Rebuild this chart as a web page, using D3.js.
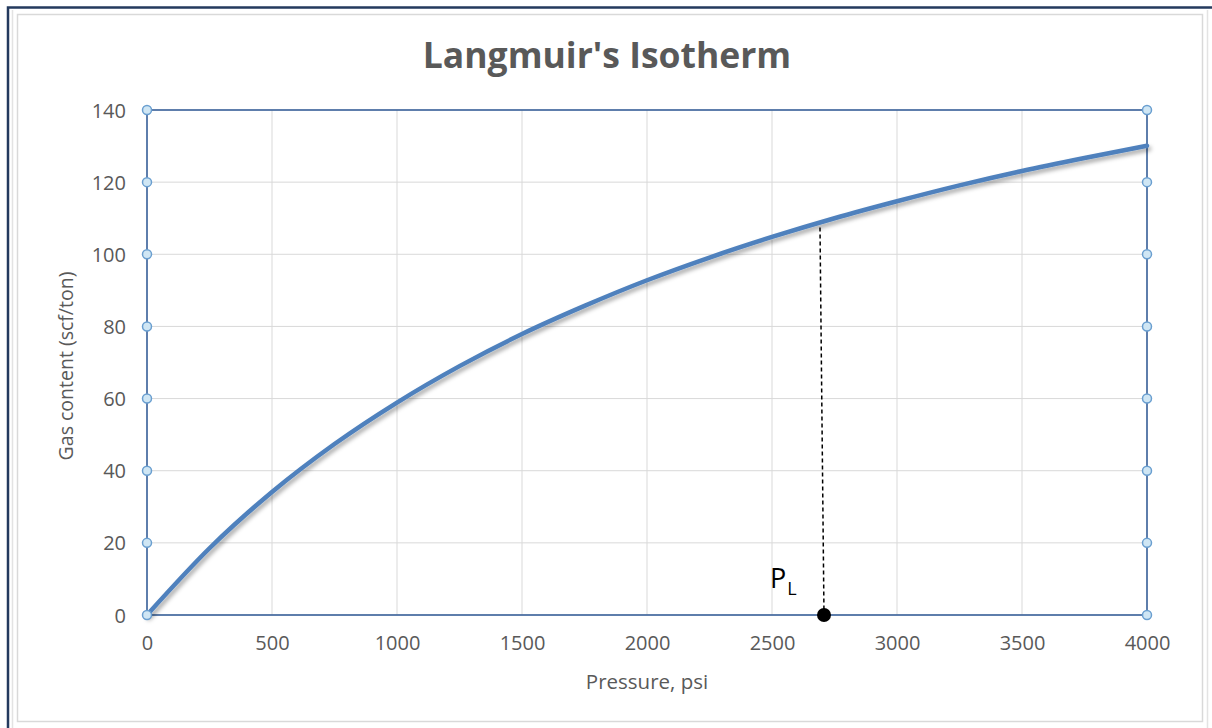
<!DOCTYPE html>
<html>
<head>
<meta charset="utf-8">
<script src="https://cdn.jsdelivr.net/npm/d3@7"></script>
<style>
  html, body { margin: 0; padding: 0; background: #fff; }
  svg { display: block; }
</style>
</head>
<body>
<svg id="chart" width="1212" height="728"></svg>
<script>
// ---- Data ----
const pressure = [0, 250, 500, 750, 1000, 1250, 1500, 1750, 2000, 2250, 2500, 2750, 3000, 3250, 3500, 3750, 4000];
const gasContent = [0, 18.5, 34.1, 47.4, 58.9, 69.0, 77.9, 85.7, 92.8, 99.1, 104.8, 110.0, 114.7, 119.1, 123.1, 126.7, 130.1];
const xTicks = [0, 500, 1000, 1500, 2000, 2500, 3000, 3500, 4000];
const yTicks = [0, 20, 40, 60, 80, 100, 120, 140];
const langmuirPressure = [2708];
const langmuirCurveValue = [108.8];
const titleText = "Langmuir's Isotherm";
const xTitle = "Pressure, psi";
const yTitle = "Gas content (scf/ton)";

const svg = d3.select("#chart");
const font = "Open Sans, Calibri, Carlito, sans-serif";

// frames
svg.append("rect").attr("x", 17.5).attr("y", 14.5).attr("width", 1185).attr("height", 707)
  .attr("fill", "#fff").attr("stroke", "#d9d9d9").attr("stroke-width", 1.5);
svg.append("line").attr("x1", 12.5).attr("x2", 12.5).attr("y1", 10).attr("y2", 728)
  .attr("stroke", "#e3e3e3").attr("stroke-width", 1.5);
svg.append("line").attr("x1", 1207.5).attr("x2", 1207.5).attr("y1", 10).attr("y2", 728)
  .attr("stroke", "#e3e3e3").attr("stroke-width", 1.5);
svg.append("path").attr("d", "M8,728 V7.5 H1212").attr("fill", "none")
  .attr("stroke", "#243a5e").attr("stroke-width", 2.5);

const x = d3.scaleLinear().domain([0, 4000]).range([147, 1147]);
const y = d3.scaleLinear().domain([0, 140]).range([615, 110]);

// shadow filter
const defs = svg.append("defs");
const f = defs.append("filter").attr("id", "shadow").attr("x", "-5%").attr("y", "-5%").attr("width", "110%").attr("height", "120%");
f.append("feDropShadow").attr("dx", 2).attr("dy", 3).attr("stdDeviation", 2)
  .attr("flood-color", "#000").attr("flood-opacity", 0.35);

// gridlines
const grid = svg.append("g");
grid.selectAll(".vg").data(xTicks).join("line")
  .attr("x1", d => x(d)).attr("x2", d => x(d)).attr("y1", y(140)).attr("y2", y(0))
  .attr("stroke", "#d9d9d9").attr("stroke-width", 1);
grid.selectAll(".hg").data(yTicks).join("line")
  .attr("x1", x(0)).attr("x2", x(4000)).attr("y1", d => y(d)).attr("y2", d => y(d))
  .attr("stroke", "#d9d9d9").attr("stroke-width", 1);

// axes (labels via d3 axes)
const yAxis = svg.append("g").attr("transform", `translate(${x(0) - 21},0)`)
  .call(d3.axisLeft(y).tickValues(yTicks).tickSize(0).tickPadding(0));
yAxis.select(".domain").remove();
yAxis.selectAll("text").attr("font-family", font).attr("font-size", 20).attr("fill", "#595959").attr("dy", "0.35em");

const xAxis = svg.append("g").attr("transform", `translate(0,${y(0) + 21})`)
  .call(d3.axisBottom(x).tickValues(xTicks).tickSize(0).tickPadding(0).tickFormat(d3.format("d")));
xAxis.select(".domain").remove();
xAxis.selectAll("text").attr("font-family", font).attr("font-size", 20).attr("fill", "#595959").attr("dy", "0.71em");

// plot border
svg.append("rect").attr("x", x(0)).attr("y", y(140)).attr("width", x(4000) - x(0)).attr("height", y(0) - y(140))
  .attr("fill", "none").attr("stroke", "#2f5a96").attr("stroke-width", 1.5);

// curve
const line = d3.line().x((d, i) => x(pressure[i])).y(d => y(d)).curve(d3.curveMonotoneX);
svg.append("path").datum(gasContent).attr("d", line)
  .attr("fill", "none").attr("stroke", "#4f81bd").attr("stroke-width", 4.5)
  .attr("stroke-linecap", "round").attr("filter", "url(#shadow)");

// dashed line to P_L
svg.append("line")
  .attr("x1", x(langmuirPressure[0]) - 4).attr("x2", x(langmuirPressure[0]))
  .attr("y1", y(langmuirCurveValue[0]) + 5).attr("y2", y(0))
  .attr("stroke", "#000").attr("stroke-width", 1.5).attr("stroke-dasharray", "4,3");
svg.append("circle").attr("cx", x(langmuirPressure[0])).attr("cy", y(0)).attr("r", 7).attr("fill", "#000");

const pl = svg.append("text").attr("x", x(langmuirPressure[0]) - 54).attr("y", y(0) - 27)
  .attr("font-family", font).attr("font-size", 27).attr("fill", "#000");
pl.append("tspan").text("P");
pl.append("tspan").attr("font-size", 18).attr("dy", 7).attr("dx", 1).text("L");

// handle markers on edges
const handles = [];
yTicks.forEach(v => { handles.push([0, v]); handles.push([4000, v]); });
svg.append("g").selectAll("circle").data(handles).join("circle")
  .attr("cx", d => x(d[0])).attr("cy", d => y(d[1])).attr("r", 4.5)
  .attr("fill", "#cfe6f4").attr("stroke", "#6a9fd0").attr("stroke-width", 1.5);

// titles
svg.append("text").attr("x", 607).attr("y", 68).attr("text-anchor", "middle")
  .attr("font-family", font).attr("font-weight", "bold").attr("font-size", 35.5).attr("fill", "#595959")
  .text(titleText);
svg.append("text").attr("x", x(2000)).attr("y", 689).attr("text-anchor", "middle")
  .attr("font-family", font).attr("font-size", 20.5).attr("fill", "#595959").text(xTitle);
svg.append("text").attr("transform", "translate(73,366) rotate(-90)").attr("text-anchor", "middle")
  .attr("font-family", font).attr("font-size", 19.5).attr("fill", "#595959").text(yTitle);
</script>
</body>
</html>
